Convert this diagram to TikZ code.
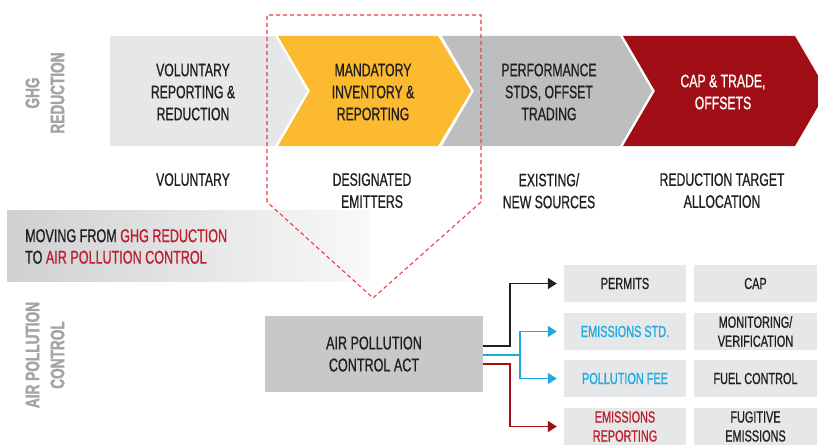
\documentclass[tikz,border=0pt]{standalone}
\usepackage{fontspec}
\setmainfont{Liberation Sans}[FakeStretch=0.68, FakeBold=0.8]
\newfontfamily\sidefont{Liberation Sans Bold}[FakeStretch=0.7, FakeBold=1.6]
\usetikzlibrary{arrows.meta}

\definecolor{ink}{HTML}{231F20}
\definecolor{palegray}{HTML}{E6E7E8}
\definecolor{midgray}{HTML}{BCBEC0}
\definecolor{actgray}{HTML}{C7C8CA}
\definecolor{amber}{HTML}{FBBA30}
\definecolor{crimson}{HTML}{A00E16}
\definecolor{labelred}{HTML}{BE1E2D}
\definecolor{sky}{HTML}{1FA9E1}
\definecolor{sidegray}{HTML}{A2A4A7}
\definecolor{dashred}{HTML}{EE3A43}
\definecolor{bannergray}{HTML}{CFD0D2}
\definecolor{bannermid}{HTML}{E4E5E6}
\definecolor{bannerend}{HTML}{F9F9F9}

\begin{document}
\begin{tikzpicture}[x=1pt,y=-1pt,
  stagetext/.style={font=\fontsize{18}{22}\selectfont, text=ink, align=center, inner sep=0pt},
  sidelabel/.style={font=\sidefont\fontsize{19.5}{25}\selectfont, text=sidegray, align=center, rotate=90, inner sep=0pt},
  cell/.style={fill=palegray, minimum width=122, minimum height=37, inner sep=0pt, align=center,
               font=\fontsize{16}{19}\selectfont, text=ink},
  actbox/.style={fill=actgray, minimum width=218, minimum height=76, inner sep=0pt, align=center,
                 font=\fontsize{18.5}{22}\selectfont, text=ink},
  link/.style={line width=1.6pt, -{Triangle[length=9pt,width=11pt]}},
  scope outline/.style={draw=dashred, line width=1.1pt, dash pattern=on 4pt off 3pt}
]
\useasboundingbox (0,0) rectangle (818,444);
\clip (0,0) rectangle (818,444);

% ---- GHG reduction stages (chevron band) ----
\fill[palegray] (110,36) -- (275,36) -- (307,91) -- (275,146) -- (110,146) -- cycle;
\fill[amber]    (278,36) -- (438,36) -- (471,91) -- (438,146) -- (278,146) -- (310,91) -- cycle;
\fill[midgray]  (442,36) -- (620,36) -- (652,91) -- (620,146) -- (442,146) -- (474,91) -- cycle;
\fill[crimson]  (623,36) -- (795,36) -- (827,91) -- (795,146) -- (623,146) -- (655,91) -- cycle;

\node[stagetext] (s1) at (193,92) {VOLUNTARY\\REPORTING \&\\REDUCTION};
\node[stagetext] (s2) at (373,92) {MANDATORY\\INVENTORY \&\\REPORTING};
\node[stagetext] (s3) at (549,92) {PERFORMANCE\\STDS, OFFSET\\TRADING};
\node[stagetext, text=white] (s4) at (723,92) {CAP \& TRADE,\\OFFSETS};

% ---- who is covered at each stage ----
\node[stagetext, anchor=north] (c1) at (193,173) {VOLUNTARY};
\node[stagetext, anchor=north] (c2) at (372,173) {DESIGNATED\\EMITTERS};
\node[stagetext, anchor=north] (c3) at (549,173) {EXISTING/\\NEW SOURCES};
\node[stagetext, anchor=north] (c4) at (722,173) {REDUCTION TARGET\\ALLOCATION};

% ---- side headings ----
\node[sidelabel] (ghg) at (45,93) {GHG\\REDUCTION};
\node[sidelabel] (apc) at (45,355) {AIR POLLUTION\\CONTROL};

% ---- transition banner ----
\shade[left color=bannergray, middle color=bannermid, right color=bannerend] (7,210) rectangle (370,281);
\node[anchor=west, align=left, inner sep=0pt, text=ink, font=\fontsize{18.5}{21.5}\selectfont]
  (moving) at (25,246.5) {MOVING FROM \textcolor{labelred}{GHG REDUCTION}\\TO \textcolor{labelred}{AIR POLLUTION CONTROL}};

% ---- air pollution control act and its instruments ----
\node[actbox] (act) at (374,354) {AIR POLLUTION\\CONTROL ACT};

\node[cell] (permits) at (625,283.5) {PERMITS};
\node[cell, text=sky] (std) at (625,331.5) {EMISSIONS STD.};
\node[cell, text=sky] (fee) at (625,378.5) {POLLUTION FEE};
\node[cell, text=labelred] (rep) at (625,426.5) {EMISSIONS\\REPORTING};

\node[cell, minimum width=123] (cap) at (755.5,283.5) {CAP};
\node[cell, minimum width=123] (mon) at (755.5,331.5) {MONITORING/\\VERIFICATION};
\node[cell, minimum width=123] (fuel) at (755.5,378.5) {FUEL CONTROL};
\node[cell, minimum width=123] (fug) at (755.5,426.5) {FUGITIVE\\EMISSIONS};

\draw[link, ink] ([yshift=8pt]act.east) -- ++(27,0) |- ([xshift=-7pt]permits.west);
\draw[link, sky] ([yshift=-1pt]act.east) -- ++(37,0) coordinate (fork) |- ([xshift=-7pt]std.west);
\draw[link, sky] (fork) |- ([xshift=-7pt]fee.west);
\draw[link, crimson] ([yshift=-10pt]act.east) -- ++(27,0) |- ([xshift=-7pt]rep.west);

% ---- dashed outline around the mandatory stage ----
\draw[scope outline] (267,202) -- (267,15) -- (481,15) -- (481,202) -- (373,298) -- cycle;
\end{tikzpicture}
\end{document}
